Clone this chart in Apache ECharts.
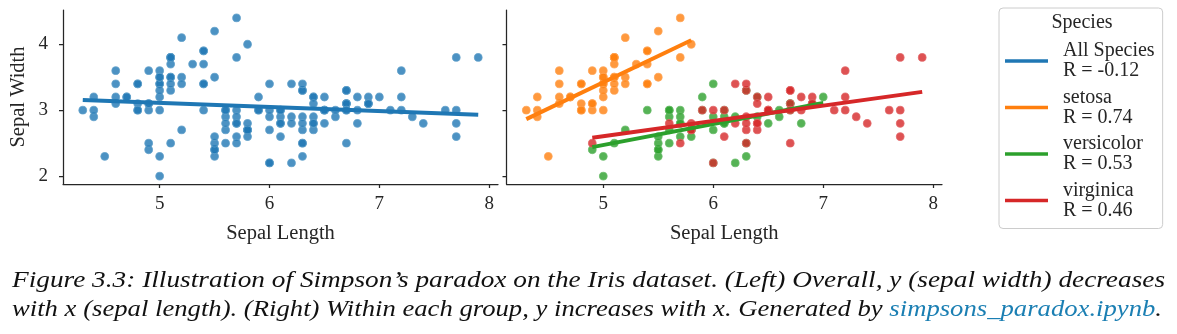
<!DOCTYPE html>
<html>
<head>
<meta charset="utf-8">
<script src="https://cdn.jsdelivr.net/npm/echarts@6/dist/echarts.min.js"></script>
<style>
  html, body { margin: 0; padding: 0; background: #ffffff; }
  #chart { width: 1177px; height: 334px; }
</style>
</head>
<body>
<div id="chart"></div>
<script>
// Iris sepal measurements, one pair of arrays per species
const setosaLength = [5.1,4.9,4.7,4.6,5.0,5.4,4.6,5.0,4.4,4.9,5.4,4.8,4.8,4.3,5.8,5.7,5.4,5.1,5.7,5.1,5.4,5.1,4.6,5.1,4.8,5.0,5.0,5.2,5.2,4.7,4.8,5.4,5.2,5.5,4.9,5.0,5.5,4.9,4.4,5.1,5.0,4.5,4.4,5.0,5.1,4.8,5.1,4.6,5.3,5.0];
const setosaWidth  = [3.5,3.0,3.2,3.1,3.6,3.9,3.4,3.4,2.9,3.1,3.7,3.4,3.0,3.0,4.0,4.4,3.9,3.5,3.8,3.8,3.4,3.7,3.6,3.3,3.4,3.0,3.4,3.5,3.4,3.2,3.1,3.4,4.1,4.2,3.1,3.2,3.5,3.6,3.0,3.4,3.5,2.3,3.2,3.5,3.8,3.0,3.8,3.2,3.7,3.3];

const versicolorLength = [7.0,6.4,6.9,5.5,6.5,5.7,6.3,4.9,6.6,5.2,5.0,5.9,6.0,6.1,5.6,6.7,5.6,5.8,6.2,5.6,5.9,6.1,6.3,6.1,6.4,6.6,6.8,6.7,6.0,5.7,5.5,5.5,5.8,6.0,5.4,6.0,6.7,6.3,5.6,5.5,5.5,6.1,5.8,5.0,5.6,5.7,5.7,6.2,5.1,5.7];
const versicolorWidth  = [3.2,3.2,3.1,2.3,2.8,2.8,3.3,2.4,2.9,2.7,2.0,3.0,2.2,2.9,2.9,3.1,3.0,2.7,2.2,2.5,3.2,2.8,2.5,2.8,2.9,3.0,2.8,3.0,2.9,2.6,2.4,2.4,2.7,2.7,3.0,3.4,3.1,2.3,3.0,2.5,2.6,3.0,2.6,2.3,2.7,3.0,2.9,2.9,2.5,2.8];

const virginicaLength = [6.3,5.8,7.1,6.3,6.5,7.6,4.9,7.3,6.7,7.2,6.5,6.4,6.8,5.7,5.8,6.4,6.5,7.7,7.7,6.0,6.9,5.6,7.7,6.3,6.7,7.2,6.2,6.1,6.4,7.2,7.4,7.9,6.4,6.3,6.1,7.7,6.3,6.4,6.0,6.9,6.7,6.9,5.8,6.8,6.7,6.7,6.3,6.5,6.2,5.9];
const virginicaWidth  = [3.3,2.7,3.0,2.9,3.0,3.0,2.5,2.9,2.5,3.6,3.2,2.7,3.0,2.5,2.8,3.2,3.0,3.8,2.6,2.2,3.2,2.8,2.8,2.7,3.3,3.2,2.8,3.0,2.8,3.0,2.8,3.8,2.8,2.8,2.6,3.0,3.4,3.1,3.0,3.1,3.1,3.1,2.7,3.2,3.3,3.0,2.5,3.0,3.4,3.0];

// Regression line end points (x range of each group, fitted y at both ends)
const fitAllX = [4.3, 7.9],        fitAllY = [3.153, 2.930];
const fitSetosaX = [4.3, 5.8],     fitSetosaY = [2.864, 4.062];
const fitVersicolorX = [4.9, 7.0], fitVersicolorY = [2.439, 3.110];
const fitVirginicaX = [4.9, 7.9],  fitVirginicaY = [2.583, 3.278];

// Legend entries and correlation coefficients
const legendNames = ['All Species', 'setosa', 'versicolor', 'virginica'];
const legendR = ['-0.12', '0.74', '0.53', '0.46'];

// Axis ticks
const xTicks = [5, 6, 7, 8];
const yTicks = [2, 3, 4];

const colors = { all: '#1f77b4', setosa: '#ff7f0e', versicolor: '#2ca02c', virginica: '#d62728' };
const SERIF = '"Liberation Serif", "Times New Roman", serif';
const INK = '#262626';

const zip = (xs, ys) => xs.map((x, i) => [x, ys[i]]);
const allPoints = zip(setosaLength, setosaWidth)
  .concat(zip(versicolorLength, versicolorWidth))
  .concat(zip(virginicaLength, virginicaWidth));

// lighter tint of a hex colour, used for the marker rim
function tint(hex, t) {
  const n = parseInt(hex.slice(1), 16);
  const c = [(n >> 16) & 255, (n >> 8) & 255, n & 255].map(v => Math.round(v + (255 - v) * t));
  return 'rgb(' + c.join(',') + ')';
}

function scatter(name, data, color, idx) {
  return {
    name: name, type: 'scatter', xAxisIndex: idx, yAxisIndex: idx,
    data: data, symbolSize: 7.8, color: color,
    itemStyle: { color: color, opacity: 0.8, borderColor: tint(color, 0.3), borderWidth: 1 },
    emphasis: { disabled: true }, silent: true
  };
}
function fitLine(name, xs, ys, color, idx) {
  return {
    name: name, type: 'line', xAxisIndex: idx, yAxisIndex: idx,
    data: zip(xs, ys), symbol: 'none', color: color,
    lineStyle: { color: color, width: 4 },
    emphasis: { disabled: true }, silent: true
  };
}

function xAxis(idx) {
  return {
    type: 'value', gridIndex: idx, min: 4.12, max: 8.08,
    name: 'Sepal Length', nameLocation: 'middle', nameGap: 39,
    nameTextStyle: { fontFamily: SERIF, fontSize: 20.5, color: INK },
    splitLine: { show: false },
    axisLine: { onZero: false, lineStyle: { color: INK, width: 1.25 } },
    axisTick: { length: 4, lineStyle: { color: INK, width: 1.25 }, customValues: xTicks },
    axisLabel: { fontFamily: SERIF, fontSize: 19, color: INK, margin: 11, customValues: xTicks }
  };
}
function yAxis(idx) {
  return {
    type: 'value', gridIndex: idx, min: 1.88, max: 4.52,
    name: idx === 0 ? 'Sepal Width' : '', nameLocation: 'middle', nameGap: 34,
    nameTextStyle: { fontFamily: SERIF, fontSize: 20.5, color: INK },
    splitLine: { show: false },
    axisLine: { onZero: false, lineStyle: { color: INK, width: 1.25 } },
    axisTick: { length: 4, lineStyle: { color: INK, width: 1.25 }, customValues: yTicks },
    axisLabel: { show: idx === 0, fontFamily: SERIF, fontSize: 19, color: INK, margin: 15, customValues: yTicks }
  };
}

// Caption text, fitted to the text block width
const captionLine1 = 'Figure 3.3: Illustration of Simpson\u2019s paradox on the Iris dataset. (Left) Overall, y (sepal width) decreases';
const captionLine2 = 'with x (sepal length). (Right) Within each group, y increases with x. Generated by ';
const captionLink = 'simpsons_paradox.ipynb';
const captionSize = 22.5;
const captionFont = 'italic ' + captionSize + 'px ' + SERIF;
const measureCtx = document.createElement('canvas').getContext('2d');
measureCtx.font = captionFont;
const w1 = measureCtx.measureText(captionLine1).width;
const w2 = measureCtx.measureText(captionLine2 + captionLink + '.').width;
const scale1 = 1153 / w1;
const scale2 = 1150 / w2;

const chart = echarts.init(document.getElementById('chart'), null, { renderer: 'canvas' });
chart.setOption({
  animation: false,
  backgroundColor: '#ffffff',
  grid: [
    { left: 63, top: 10, width: 435, height: 174 },
    { left: 506.5, top: 10, width: 435.5, height: 174 }
  ],
  xAxis: [xAxis(0), xAxis(1)],
  yAxis: [yAxis(0), yAxis(1)],
  legend: {
    data: legendNames,
    orient: 'vertical', left: 999, top: 8,
    padding: [32, 8, 7, 6],
    itemGap: 4.5, itemWidth: 43, itemHeight: 3.5, icon: 'rect',
    selectedMode: false,
    formatter: name => name + '\nR = ' + legendR[legendNames.indexOf(name)],
    textStyle: { fontFamily: SERIF, fontSize: 20, lineHeight: 20, color: INK, padding: [2, 0, 0, 10] },
    borderColor: '#cccccc', borderWidth: 1, borderRadius: 4,
    backgroundColor: 'rgba(255,255,255,0.8)'
  },
  graphic: [
    {
      type: 'text', x: 1082, y: 23, z: 100,
      style: { text: 'Species', font: '20px ' + SERIF, fill: INK, align: 'center', verticalAlign: 'middle' }
    },
    {
      type: 'text', x: 12, y: 281.5, scaleX: scale1, z: 100,
      style: { text: captionLine1, font: captionFont, fill: '#111111', verticalAlign: 'middle' }
    },
    {
      type: 'text', x: 12, y: 310.5, scaleX: scale2, z: 100,
      style: {
        text: '{a|' + captionLine2 + '}{b|' + captionLink + '}{a|.}',
        font: captionFont, verticalAlign: 'middle',
        rich: {
          a: { font: captionFont, fill: '#111111' },
          b: { font: captionFont, fill: '#1b7fb3' }
        }
      }
    }
  ],
  series: [
    scatter('All Species points', allPoints, colors.all, 0),
    fitLine('All Species', fitAllX, fitAllY, colors.all, 0),
    scatter('setosa points', zip(setosaLength, setosaWidth), colors.setosa, 1),
    fitLine('setosa', fitSetosaX, fitSetosaY, colors.setosa, 1),
    scatter('versicolor points', zip(versicolorLength, versicolorWidth), colors.versicolor, 1),
    fitLine('versicolor', fitVersicolorX, fitVersicolorY, colors.versicolor, 1),
    scatter('virginica points', zip(virginicaLength, virginicaWidth), colors.virginica, 1),
    fitLine('virginica', fitVirginicaX, fitVirginicaY, colors.virginica, 1)
  ]
});
</script>
</body>
</html>
